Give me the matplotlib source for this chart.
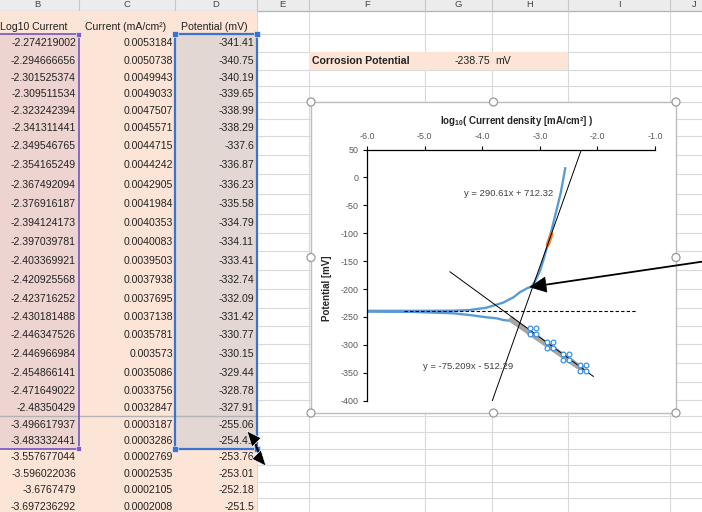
import numpy as np
import matplotlib
matplotlib.use("Agg")
import matplotlib.pyplot as plt
from matplotlib.patches import Rectangle, Circle, Polygon
from matplotlib.ticker import FormatStrFormatter
from matplotlib.transforms import offset_copy

plt.rcParams['font.family'] = ['Liberation Sans', 'DejaVu Sans']
plt.rcParams['axes.unicode_minus'] = False
plt.rcParams['mathtext.fontset'] = 'custom'
plt.rcParams['mathtext.rm'] = 'Liberation Sans'
plt.rcParams['mathtext.bf'] = 'Liberation Sans:bold'

# ---------------- worksheet data (columns B, C, D; rows 2-28) ----------------
log_current = [-2.274219002, -2.294666656, -2.301525374, -2.309511534, -2.323242394,
               -2.341311441, -2.349546765, -2.354165249, -2.367492094, -2.376916187,
               -2.394124173, -2.397039781, -2.403369921, -2.420925568, -2.423716252,
               -2.430181488, -2.446347526, -2.446966984, -2.454866141, -2.471649022,
               -2.48350429, -3.496617937, -3.483332441, -3.557677044, -3.596022036,
               -3.6767479, -3.697236292]
current = [0.0053184, 0.0050738, 0.0049943, 0.0049033, 0.0047507, 0.0045571, 0.0044715,
           0.0044242, 0.0042905, 0.0041984, 0.0040353, 0.0040083, 0.0039503, 0.0037938,
           0.0037695, 0.0037138, 0.0035781, 0.003573, 0.0035086, 0.0033756, 0.0032847,
           0.0003187, 0.0003286, 0.0002769, 0.0002535, 0.0002105, 0.0002008]
potential = [-341.41, -340.75, -340.19, -339.65, -338.99, -338.29, -337.6, -336.87,
             -336.23, -335.58, -334.79, -334.11, -333.41, -332.74, -332.09, -331.42,
             -330.77, -330.15, -329.44, -328.78, -327.91, -255.06, -254.41, -253.76,
             -253.01, -252.18, -251.5]
headers = ["Log10 Current", "Current (mA/cm\u00b2)", "Potential (mV)"]
n_selected = 23          # rows 2-24 form the highlighted series
corrosion_potential = -238.75

# ---------------- polarization scan (log i vs E) ----------------
scan_log_i = [-2.27, -2.48, -2.75, -3.0, -3.25, -3.5, -3.64, -3.75, -3.93, -4.22, -4.51, -5.2, -6.4,
              -6.4, -5.2, -4.51, -4.22, -3.93, -3.64, -3.46, -3.35, -3.23, -3.14, -3.09, -3.0,
              -2.94, -2.84, -2.71, -2.64, -2.56]
scan_E = [-341.4, -327.9, -308.3, -289.9, -271.5, -257.0, -255.4, -252.4, -250.6, -246.5, -243.4,
          -241.0, -240.2,
          -239.0, -239.0, -238.8, -237.5, -233.4, -224.4, -214.8, -205.8, -199.0, -195.0, -187.0,
          -168.0, -148.0, -112.0, -58.0, -28.5, 16.3]

# anodic points used for the Tafel fit
fit_log_i = [-2.865, -2.835, -2.80]
fit_E = [-121.0, -112.0, -101.4]

# series selection handles
handle_log_i = [-3.12, -2.825, -2.547, -2.257]
handle_E = [-275.5, -299.7, -321.2, -342.0]

# linear Tafel trendlines
anodic_slope, anodic_icpt = 290.61, 712.32
cathodic_slope, cathodic_icpt = -75.209, -512.29
anodic_span = [-3.827, -2.279]
cathodic_span = [-4.563, -2.072]
baseline_span = [-5.37, -1.32]

# ---------------- figure & worksheet canvas (pixel coordinates) ----------------
W, H = 702, 512
fig = plt.figure(figsize=(W / 100, H / 100), dpi=100)
sheet = fig.add_axes([0, 0, 1, 1])
sheet.set_xlim(0, W)
sheet.set_ylim(H, 0)
sheet.axis('off')

col_names = ['B', 'C', 'D', 'E', 'F', 'G', 'H', 'I', 'J']
col_edges = [-40, 78.7, 175, 256.7, 309, 425, 492, 568, 670, 770]
row_edges = [10.5, 34, 52, 69.5, 85.5, 101.5, 118.5, 136, 154.5, 174, 194, 213.5, 232.5,
             251, 269.5, 289, 308, 326, 344, 363, 382, 399.5, 416, 432, 448.5, 465,
             481.5, 498, 514]
grid_c = '#d9d9d9'
peach = '#fce4d6'

# column header strip
sheet.add_patch(Rectangle((0, 0), W, row_edges[0], fc='#ececec', ec='none', zorder=1))
sheet.plot([0, W], [row_edges[0], row_edges[0]], color='#b5b5b5', lw=0.9, zorder=2)
for i, name in enumerate(col_names):
    sheet.plot([col_edges[i + 1]] * 2, [0, row_edges[0]], color='#c6c6c6', lw=0.8, zorder=2)
    cx = (max(col_edges[i], 0) + min(col_edges[i + 1], W)) / 2 if i else 37
    if name == 'J':
        cx = 694
    sheet.text(cx, 4.6, name, ha='center', va='center', fontsize=6.8, color='#444444',
               zorder=3)

# gridlines in the unfilled area
for y in row_edges:
    sheet.plot([col_edges[3], W], [y, y], color=grid_c, lw=0.8, zorder=1)
for x in col_edges[3:9]:
    sheet.plot([x, x], [row_edges[0], H], color=grid_c, lw=0.8, zorder=1)

# filled data columns
top, sel_bottom = row_edges[1], row_edges[1 + n_selected]
sheet.add_patch(Rectangle((col_edges[0], row_edges[0]), col_edges[3] - col_edges[0],
                          H - row_edges[0] + 5, fc=peach, ec='none', zorder=2))
sheet.add_patch(Rectangle((col_edges[0], top), col_edges[1] - col_edges[0], sel_bottom - top,
                          fc='#edd4d1', ec='none', zorder=2))
sheet.add_patch(Rectangle((col_edges[2], top), col_edges[3] - col_edges[2], sel_bottom - top,
                          fc='#e3d7d4', ec='none', zorder=2))
# hidden-rows marker between rows 22 and 23
sheet.plot([0, col_edges[3]], [row_edges[22]] * 2, color='#b3b3b3', lw=1.0, zorder=3)

# header row texts
hy = 27
sheet.text(67, hy, headers[0], ha='right', va='center', fontsize=7.6, color='#222222', zorder=4)
sheet.text(126, hy, headers[1], ha='center', va='center', fontsize=7.6, color='#222222', zorder=4)
sheet.text(214.5, hy, headers[2], ha='center', va='center', fontsize=7.6, color='#222222', zorder=4)

# table values
for r in range(len(log_current)):
    yc = (row_edges[r + 1] + row_edges[r + 2]) / 2 + 0.5
    sheet.text(76, yc, str(log_current[r]), ha='right', va='center', fontsize=7.6,
               color='#222222', zorder=4)
    sheet.text(173, yc, str(current[r]), ha='right', va='center', fontsize=7.6,
               color='#222222', zorder=4)
    sheet.text(254, yc, str(potential[r]), ha='right', va='center', fontsize=7.6,
               color='#222222', zorder=4)

# corrosion potential cell
sheet.add_patch(Rectangle((col_edges[4], row_edges[2]), col_edges[7] - col_edges[4],
                          row_edges[3] - row_edges[2], fc=peach, ec='none', zorder=2))
cy = (row_edges[2] + row_edges[3]) / 2 + 0.5
sheet.text(312, cy, "Corrosion Potential", ha='left', va='center', fontsize=7.6,
           fontweight='bold', color='#222222', zorder=4)
sheet.text(490, cy, f"{corrosion_potential:.2f}", ha='right', va='center', fontsize=7.6,
           color='#222222', zorder=4)
sheet.text(495, cy, "mV", ha='left', va='center', fontsize=7.6, color='#222222', zorder=4)

# range selection outlines
purple = '#7e5ec4'
sheet.plot([-5, col_edges[1], col_edges[1], -5], [top, top, sel_bottom, sel_bottom],
           color=purple, lw=1.3, zorder=5)
for yy in (top, sel_bottom):
    sheet.add_patch(Rectangle((col_edges[1] - 2.5, yy - 2.5), 5, 5, fc=purple, ec='white',
                              lw=0.4, zorder=6))
blue_sel = '#3b73d1'
sheet.add_patch(Rectangle((col_edges[2], top), col_edges[3] - col_edges[2], sel_bottom - top,
                          fc='none', ec=blue_sel, lw=1.6, zorder=5))
for xx in (col_edges[2], col_edges[3]):
    for yy in (top, sel_bottom):
        sheet.add_patch(Rectangle((xx - 3, yy - 3), 6, 6, fc=blue_sel, ec='white', lw=0.4,
                                  zorder=6))

# chart container
box = (311, 102, 676, 413)
sheet.add_patch(Rectangle((box[0], box[1]), box[2] - box[0], box[3] - box[1], fc='white',
                          ec='#bdbdbd', lw=1.0, zorder=7))

# ---------------- chart ----------------
px_l, px_r, px_t, px_b = 367.3, 655.0, 149.5, 400.7
ax = fig.add_axes([px_l / W, 1 - px_b / H, (px_r - px_l) / W, (px_b - px_t) / H])
ax.patch.set_visible(False)
ax.set_xlim(-6, -1)
ax.set_ylim(-400, 50)
for s in ('right', 'bottom'):
    ax.spines[s].set_visible(False)
for s in ('top', 'left'):
    ax.spines[s].set_color('black')
    ax.spines[s].set_linewidth(0.9)
ax.xaxis.tick_top()
ax.set_xticks(np.arange(-6, -0.5, 1.0))
ax.xaxis.set_major_formatter(FormatStrFormatter('%.1f'))
ax.set_yticks(np.arange(-400, 51, 50))
ax.tick_params(axis='x', direction='out', length=3, width=0.8, pad=3.2, labelsize=6.4,
               labelcolor='#595959', color='black')
ax.tick_params(axis='y', direction='out', length=3, width=0.8, pad=3.2, labelsize=6.4,
               labelcolor='#595959', color='black')

ax.plot(scan_log_i, scan_E, color='#5b9bd5', lw=1.7, solid_joinstyle='round', zorder=2)
ax.plot(log_current[:n_selected], potential[:n_selected], color='#a6a6a6', lw=4.0,
        solid_capstyle='round', zorder=3)
ax.plot(fit_log_i, fit_E, color='#ed7d31', lw=3.0, solid_capstyle='round', zorder=3)

xa = np.array(anodic_span)
ax.plot(xa, anodic_slope * xa + anodic_icpt, color='black', lw=0.7, zorder=4)
xc = np.array(cathodic_span)
ax.plot(xc, cathodic_slope * xc + cathodic_icpt, color='black', lw=0.7, zorder=4)
ax.plot(baseline_span, [corrosion_potential] * 2, color='black', lw=0.8,
        ls=(0, (3, 2)), zorder=4)

for dx, dy in [(-3, -3), (3, -3), (-3, 3), (3, 3)]:
    tr = offset_copy(ax.transData, fig=fig, x=dx, y=dy, units='dots')
    ax.plot(handle_log_i, handle_E, 'o', ls='none', ms=3.4, mfc='white', mec='#3a8ee6',
            mew=0.9, transform=tr, zorder=5, clip_on=False)

ax.text(-3.54, -28, f"y = {anodic_slope}x + {anodic_icpt}", ha='center', va='center',
        fontsize=6.8, color='#404040', zorder=6)
ax.text(-4.25, -339.6, f"y = {cathodic_slope}x - {abs(cathodic_icpt)}", ha='center',
        va='center', fontsize=6.8, color='#404040', zorder=6)

fig.text(517 / W, 1 - 120.7 / H, r"log$_{\mathbf{10}}$( Current density [mA/cm²] )",
         ha='center', va='center', fontsize=7, fontweight='bold', color='#262626')
fig.text(327 / W, 1 - 288.5 / H, "Potential [mV]", ha='center', va='center', rotation=90,
         fontsize=7, fontweight='bold', color='#262626')

# ---------------- overlay: chart handles, callout arrow, cursor ----------------
ov = fig.add_axes([0, 0, 1, 1])
ov.set_xlim(0, W)
ov.set_ylim(H, 0)
ov.axis('off')
ov.patch.set_visible(False)

mx, my = (box[0] + box[2]) / 2, (box[1] + box[3]) / 2
for hx, hy_ in [(box[0], box[1]), (mx, box[1]), (box[2], box[1]), (box[0], my),
                (box[2], my), (box[0], box[3]), (mx, box[3]), (box[2], box[3])]:
    ov.add_patch(Circle((hx, hy_), 4.0, fc='white', ec='#9a9a9a', lw=0.9, zorder=10))

tip = np.array([530.0, 287.0])
tail = np.array([712.0, 260.2])
u = (tip - tail) / np.linalg.norm(tip - tail)
nrm = np.array([-u[1], u[0]])
base = tip - 16 * u
ov.plot([tail[0], base[0]], [tail[1], base[1]], color='black', lw=1.3, zorder=11)
ov.add_patch(Polygon([tip, base + 7.5 * nrm, base - 7.5 * nrm], closed=True, fc='black',
                     ec='black', lw=0.5, zorder=11))

# resize cursor
ov.plot([254, 259], [441, 453], color='black', lw=1.5, zorder=12)
ov.add_patch(Polygon([(247, 431), (261, 438), (252, 447)], closed=True, fc='black',
                     ec='white', lw=0.5, zorder=12))
ov.add_patch(Polygon([(266, 466), (252, 459), (261, 450)], closed=True, fc='black',
                     ec='white', lw=0.5, zorder=12))

fig.savefig('out.png', dpi=100)
